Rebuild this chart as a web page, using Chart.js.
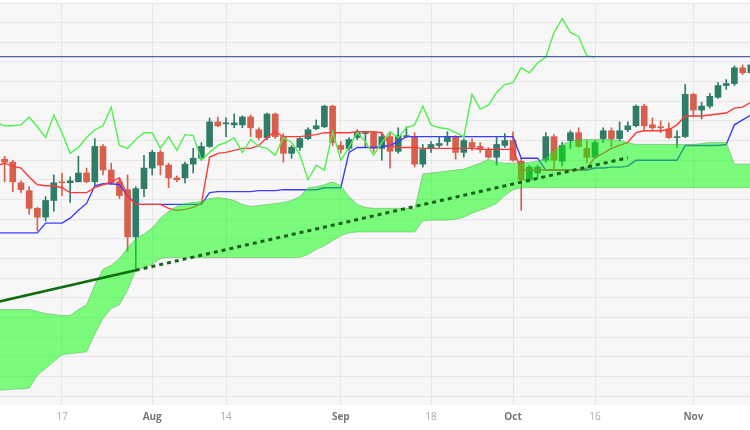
<!DOCTYPE html>
<html>
<head>
<meta charset="utf-8">
<script src="https://cdn.jsdelivr.net/npm/chart.js@4.4.0/dist/chart.umd.min.js"></script>
<style>
  html, body { margin: 0; padding: 0; background: #fff; }
  #chart { display: block; }
</style>
</head>
<body>
<canvas id="chart" width="750" height="430"></canvas>
<script>
// x = trading-day index, 0 = Jul 17
const tickIndex = [0, 11, 20, 34, 45, 55, 65, 77];
const tickLabels = ['17', 'Aug', '14', 'Sep', '18', 'Oct', '16', 'Nov'];
const monthLabels = ['Aug', 'Sep', 'Oct', 'Nov'];

// candles start at index -7
const candleStart = -7;
const open = [241, 238, 217, 209, 191, 182, 199, 218, 217, 218, 227, 218, 254, 230, 218, 210, 162, 211, 232, 248,
  235, 222, 222, 236, 242, 254, 279, 277, 276, 276, 284, 271, 263, 287, 264, 247, 253, 262, 272, 274,
  295, 255, 252, 263, 267, 268, 252, 264, 249, 264, 264, 236, 252, 255, 259, 264, 248, 258, 254, 251,
  243, 255, 260, 239, 220, 227, 240, 264, 239, 260, 268, 252, 243, 262, 270, 262, 271, 275, 295, 276,
  274, 272, 263, 264, 307, 291, 295, 304, 316, 318, 334, 329];
const high = [244, 240, 219, 213, 192, 203, 225, 227, 223, 244, 232, 262, 256, 237, 222, 225, 213, 245, 250, 250,
  237, 224, 238, 252, 258, 283, 284, 283, 287, 285, 286, 273, 288, 288, 267, 255, 263, 273, 281, 296,
  296, 259, 263, 271, 269, 269, 267, 268, 273, 274, 268, 256, 259, 264, 269, 265, 262, 262, 258, 253,
  264, 267, 269, 242, 235, 235, 268, 266, 258, 270, 273, 260, 260, 273, 273, 279, 279, 296, 297, 283,
  280, 278, 270, 317, 308, 299, 308, 319, 322, 336, 337, 340];
const low = [218, 208, 207, 185, 168, 178, 188, 204, 197, 218, 217, 214, 225, 215, 201, 147, 128, 203, 225, 225,
  212, 218, 217, 227, 240, 253, 274, 264, 273, 273, 264, 261, 261, 262, 238, 242, 250, 261, 271, 273,
  255, 247, 250, 261, 253, 248, 240, 232, 247, 263, 233, 233, 248, 253, 255, 241, 243, 250, 248, 242,
  235, 253, 239, 189, 218, 222, 238, 231, 234, 252, 253, 237, 242, 258, 254, 260, 269, 274, 270, 271,
  268, 262, 253, 263, 284, 282, 293, 303, 312, 316, 327, 327];
const close = [238, 218, 210, 191, 182, 199, 217, 217, 219, 227, 218, 254, 230, 217, 204, 162, 211, 232, 248, 235,
  222, 220, 236, 242, 254, 279, 275, 278, 278, 284, 273, 263, 287, 264, 247, 253, 262, 271, 275, 295,
  258, 251, 261, 268, 268, 252, 264, 249, 265, 265, 236, 251, 256, 257, 264, 248, 260, 253, 251, 243,
  256, 260, 240, 220, 233, 233, 264, 240, 255, 268, 254, 243, 258, 270, 262, 270, 275, 295, 275, 273,
  273, 263, 264, 307, 291, 295, 305, 316, 318, 334, 329, 337];

// indicator lines start at index -8
const lineStart = -8;
const tenkan = [234, 237, 234, 232, 223, 215, 214, 214, 212, 207, 207, 207, 212, 215, 218, 222, 204, 195, 195, 195,
  195, 191, 189, 190, 192, 196, 243, 247, 248, 250, 252, 252, 255, 263, 269, 264, 264, 264, 265, 266,
  268, 268, 268, 268, 269, 269, 269, 268, 255, 253, 253, 253, 252, 252, 252, 252, 252, 252, 252, 251,
  251, 251, 251, 251, 230, 230, 230, 230, 230, 230, 230, 230, 232, 243, 247, 252, 255, 258, 268, 270,
  270, 270, 271, 276, 285, 285, 285, 286, 287, 288, 293, 294, 299];
const kijun = [166, 166, 166, 166, 166, 166, 176, 176, 176, 181, 189, 196, 214, 216, 216, 215, 204, 195, 195, 195,
  195, 195, 195, 195, 195, 195, 207, 208, 208, 208, 208, 208, 209, 209, 209, 210, 210, 210, 210, 210,
  212, 212, 212, 248, 253, 253, 253, 254, 255, 259, 264, 264, 264, 264, 264, 264, 264, 264, 264, 264,
  264, 264, 264, 264, 242, 242, 242, 230, 230, 230, 230, 230, 230, 232, 232, 233, 233, 234, 240, 240,
  240, 240, 240, 240, 255, 255, 255, 255, 255, 256, 276, 281, 286];
const chikou = [278.5, 275, 275, 276, 284, 274, 263, 286, 268, 247, 253, 263, 271, 275, 294, 255, 252, 261, 268, 268,
  252, 264, 250, 266, 265, 240, 248, 255, 258, 263, 248, 261, 254, 252, 245, 263, 258, 246, 220, 235,
  230, 269, 240, 253, 268, 259, 245, 258, 269, 263, 273, 276, 295, 276, 273, 272, 268, 264, 307, 292,
  296, 309, 317, 319, 334, 329, 339, 345, 370, 384, 370, 366, 346, 345];
const spanA = [88, 88, 88, 88, 88, 86, 84, 83, 82, 82, 88, 93, 113, 129, 133, 140, 151, 160, 165, 171,
  181, 188, 193, 196, 197, 198, 201, 202, 201, 199, 195, 193, 194, 195, 196, 197, 199, 203, 212, 213,
  215, 218, 214, 203, 195, 192, 191, 191, 191, 191, 191, 190, 226, 227, 228, 229, 230, 231, 234, 237,
  241, 238, 237, 237, 237, 238, 239, 242, 250, 256, 259, 261, 261, 261, 261, 261, 260, 258, 256, 256,
  256, 256, 256, 256, 256, 256, 257, 258, 258, 258, 236, 236, 236];
const spanB = [6, 6, 7, 7, 8, 21, 28, 35, 42, 43, 44, 45, 63, 79, 89, 93, 108, 128, 131, 134,
  140, 141, 141, 141, 141, 141, 141, 141, 141, 141, 141, 141, 141, 141, 141, 141, 141, 141, 144, 149,
  153, 158, 163, 166, 167, 167, 167, 167, 167, 167, 167, 167, 178, 179, 179, 179, 180, 182, 186, 189,
  192, 196, 204, 210, 212, 212, 212, 212, 212, 212, 212, 212, 212, 212, 212, 212, 212, 212, 212, 212,
  212, 212, 212, 212, 212, 212, 212, 212, 212, 212, 212, 212, 212];

// trend line: solid up to the touch point, dotted after it
const trendX = [-8, 9, 69];
const trendY = [95.5, 128, 242.5];
const levelValue = 345.5;

const yMin = -9.16, yMax = 400, yStep = 20;
const xMin = -7.56, xMax = 83.9;

const upColor = '#2f7c68';
const downColor = '#d95f4c';

function pts(values, start) {
  return values.map((v, i) => ({ x: start + i, y: v }));
}
function isMonth(c) {
  return !!(c && c.tick && monthLabels.includes(c.tick.label));
}

const candleColors = close.map((c, i) => (c >= open[i] ? upColor : downColor));
const bodies = open.map((o, i) => ({ x: candleStart + i, y: [o, close[i]] }));
const wicks = low.map((l, i) => ({ x: candleStart + i, y: [l, high[i]] }));

const bgPlugin = {
  id: 'bg',
  beforeDraw(chart) {
    const { ctx, chartArea: a } = chart;
    ctx.save();
    ctx.fillStyle = '#ffffff';
    ctx.fillRect(0, 0, chart.width, chart.height);
    ctx.fillStyle = '#f7f7f7';
    ctx.fillRect(a.left, a.top, a.right - a.left, a.bottom - a.top);
    ctx.restore();
  }
};

const lineBase = { type: 'line', pointRadius: 0, tension: 0, fill: false, borderWidth: 1.4 };
const edgeColor = 'rgba(90,150,90,0.45)';

new Chart(document.getElementById('chart'), {
  type: 'bar',
  data: {
    datasets: [
      { ...lineBase, order: 0, data: [{ x: trendX[0], y: trendY[0] }, { x: trendX[1], y: trendY[1] }],
        borderColor: '#0f6e12', borderWidth: 2.6 },
      { ...lineBase, order: 0, data: [{ x: trendX[1], y: trendY[1] }, { x: trendX[2], y: trendY[2] }],
        borderColor: '#17621b', borderWidth: 3, borderDash: [4, 4] },
      { ...lineBase, order: 1, data: pts(spanA, lineStart), borderColor: edgeColor,
        borderWidth: 1, fill: '+1', backgroundColor: 'rgba(0,255,0,0.5)' },
      { ...lineBase, order: 1, data: pts(spanB, lineStart), borderColor: edgeColor, borderWidth: 1 },
      { ...lineBase, order: 2, data: [{ x: -8, y: levelValue }, { x: 85, y: levelValue }],
        borderColor: '#4d64a0', borderWidth: 1.3 },
      { ...lineBase, order: 2, data: pts(chikou, lineStart), borderColor: '#4ff04f' },
      { ...lineBase, order: 2, data: pts(tenkan, lineStart), borderColor: '#ff3a3a' },
      { ...lineBase, order: 2, data: pts(kijun, lineStart), borderColor: '#3c3cff' },
      { type: 'bar', order: 3, data: bodies, backgroundColor: candleColors, borderWidth: 0,
        barThickness: 6, grouped: false },
      { type: 'bar', order: 4, data: wicks, backgroundColor: candleColors, borderWidth: 0,
        barThickness: 1, grouped: false }
    ]
  },
  options: {
    responsive: false,
    animation: false,
    layout: { padding: { top: 3, left: 0, right: 0, bottom: 0 } },
    plugins: { legend: { display: false }, tooltip: { enabled: false } },
    scales: {
      x: {
        type: 'linear', min: xMin, max: xMax, offset: false,
        afterBuildTicks: (s) => { s.ticks = tickIndex.map((v) => ({ value: v })); },
        afterFit: (s) => { s.height = 25; },
        grid: { color: '#e6e6e6', drawTicks: false, offset: false },
        border: { display: false },
        ticks: {
          autoSkip: false, maxRotation: 0, padding: 6,
          callback: (v) => tickLabels[tickIndex.indexOf(v)],
          color: (c) => (isMonth(c) ? '#777777' : '#a9a9a9'),
          font: (c) => ({ family: 'Open Sans', size: 10, weight: isMonth(c) ? 'bold' : 'normal' })
        }
      },
      y: {
        min: yMin, max: yMax,
        afterBuildTicks: (s) => {
          const t = [];
          for (let v = 0; v <= yMax; v += yStep) t.push({ value: v });
          s.ticks = t;
        },
        afterFit: (s) => { s.width = 0; },
        grid: { color: '#e6e6e6', drawTicks: false },
        border: { display: false },
        ticks: { display: false }
      }
    }
  },
  plugins: [bgPlugin]
});
</script>
</body>
</html>
